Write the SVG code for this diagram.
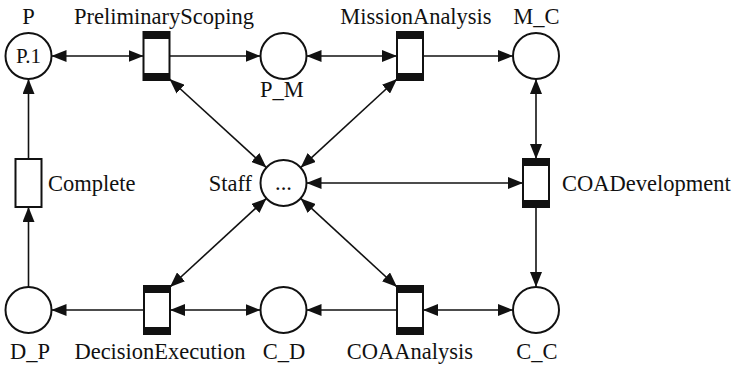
<svg xmlns="http://www.w3.org/2000/svg" width="734" height="367" viewBox="0 0 734 367">
  <style>
    .place { fill: #fff; stroke: #111; stroke-width: 2; }
    .trans { fill: #fff; stroke: #111; stroke-width: 2; }
    .bar { fill: #111; }
    .arc { stroke: #111; stroke-width: 1.6; fill: none; }
    .lbl { font-family: 'Liberation Serif', 'DejaVu Serif', serif; font-size: 22.5px; fill: #111; }
    .mid { text-anchor: middle; }
    .end { text-anchor: end; }
  </style>
  <defs>
    <marker id="head" viewBox="0 0 15 12" refX="15" refY="6" markerWidth="15" markerHeight="12" markerUnits="userSpaceOnUse" orient="auto-start-reverse">
      <path d="M0,0 L15,6 L0,12 z" fill="#111"/>
    </marker>
  </defs>

  <rect width="734" height="367" fill="#fff"/>

  <!-- arcs -->
  <g id="connectors">
    <!-- top row -->
    <line class="arc" x1="51.5" y1="56" x2="143.5" y2="56" marker-start="url(#head)" marker-end="url(#head)"/>
    <line class="arc" x1="169.5" y1="56" x2="260.5" y2="56" marker-end="url(#head)"/>
    <line class="arc" x1="306.5" y1="56" x2="397" y2="56" marker-start="url(#head)" marker-end="url(#head)"/>
    <line class="arc" x1="423" y1="56" x2="513" y2="56" marker-end="url(#head)"/>
    <!-- right column -->
    <line class="arc" x1="536" y1="79" x2="536" y2="159" marker-start="url(#head)" marker-end="url(#head)"/>
    <line class="arc" x1="536" y1="207" x2="536" y2="287" marker-end="url(#head)"/>
    <!-- bottom row -->
    <line class="arc" x1="513" y1="310" x2="423" y2="310" marker-start="url(#head)" marker-end="url(#head)"/>
    <line class="arc" x1="397" y1="310" x2="306.5" y2="310" marker-end="url(#head)"/>
    <line class="arc" x1="260.5" y1="310" x2="170" y2="310" marker-start="url(#head)" marker-end="url(#head)"/>
    <line class="arc" x1="144" y1="310" x2="51.5" y2="310" marker-end="url(#head)"/>
    <!-- left column -->
    <line class="arc" x1="28.5" y1="287" x2="28.5" y2="207" marker-end="url(#head)"/>
    <line class="arc" x1="28.5" y1="159" x2="28.5" y2="79" marker-end="url(#head)"/>
    <!-- Staff resource arcs -->
    <line class="arc" x1="266.4" y1="167.6" x2="169.5" y2="79" marker-start="url(#head)" marker-end="url(#head)"/>
    <line class="arc" x1="300.7" y1="167.6" x2="397" y2="79" marker-start="url(#head)" marker-end="url(#head)"/>
    <line class="arc" x1="306.5" y1="183" x2="523" y2="183" marker-start="url(#head)" marker-end="url(#head)"/>
    <line class="arc" x1="266.4" y1="198.4" x2="170" y2="287" marker-start="url(#head)" marker-end="url(#head)"/>
    <line class="arc" x1="300.7" y1="198.4" x2="397" y2="287" marker-start="url(#head)" marker-end="url(#head)"/>
  </g>

  <!-- places -->
  <g id="P">
    <circle class="place" cx="28.5" cy="56" r="23"/>
    <text class="lbl mid" x="28.5" y="24" font-family="Liberation Serif, serif">P</text>
    <text class="lbl mid" x="28.5" y="63" font-family="Liberation Serif, serif" style="font-size:21px">P.1</text>
  </g>
  <g id="P_M">
    <circle class="place" cx="283.5" cy="56" r="23"/>
    <text class="lbl mid" x="282" y="97" font-family="Liberation Serif, serif">P_M</text>
  </g>
  <g id="M_C">
    <circle class="place" cx="536" cy="56" r="23"/>
    <text class="lbl mid" x="536.5" y="24" font-family="Liberation Serif, serif">M_C</text>
  </g>
  <g id="Staff">
    <circle class="place" cx="283.5" cy="183" r="23"/>
    <text class="lbl end" x="252" y="191" font-family="Liberation Serif, serif">Staff</text>
    <text class="lbl mid" x="283.5" y="190" font-family="Liberation Serif, serif">...</text>
  </g>
  <g id="D_P">
    <circle class="place" cx="28.5" cy="310" r="23"/>
    <text class="lbl mid" x="30" y="359" font-family="Liberation Serif, serif">D_P</text>
  </g>
  <g id="C_D">
    <circle class="place" cx="283.5" cy="310" r="23"/>
    <text class="lbl mid" x="284" y="359" font-family="Liberation Serif, serif">C_D</text>
  </g>
  <g id="C_C">
    <circle class="place" cx="536" cy="310" r="23"/>
    <text class="lbl mid" x="537" y="359" font-family="Liberation Serif, serif">C_C</text>
  </g>

  <!-- transitions -->
  <g id="PreliminaryScoping">
    <rect class="trans" x="143.5" y="32" width="26" height="48"/>
    <rect class="bar" x="143.5" y="32" width="26" height="7"/>
    <rect class="bar" x="143.5" y="73" width="26" height="7"/>
    <text class="lbl mid" x="164" y="24" font-family="Liberation Serif, serif">PreliminaryScoping</text>
  </g>
  <g id="MissionAnalysis">
    <rect class="trans" x="397" y="32" width="26" height="48"/>
    <rect class="bar" x="397" y="32" width="26" height="7"/>
    <rect class="bar" x="397" y="73" width="26" height="7"/>
    <text class="lbl mid" x="416" y="24" font-family="Liberation Serif, serif">MissionAnalysis</text>
  </g>
  <g id="Complete">
    <rect class="trans" x="15.5" y="159" width="26" height="48"/>
    <text class="lbl" x="48" y="191" font-family="Liberation Serif, serif">Complete</text>
  </g>
  <g id="COADevelopment">
    <rect class="trans" x="523" y="159" width="26" height="48"/>
    <rect class="bar" x="523" y="159" width="26" height="7"/>
    <rect class="bar" x="523" y="200" width="26" height="7"/>
    <text class="lbl" x="562" y="191" font-family="Liberation Serif, serif">COADevelopment</text>
  </g>
  <g id="DecisionExecution">
    <rect class="trans" x="144" y="286" width="26" height="48"/>
    <rect class="bar" x="144" y="286" width="26" height="7"/>
    <rect class="bar" x="144" y="327" width="26" height="7"/>
    <text class="lbl mid" x="160" y="359" font-family="Liberation Serif, serif">DecisionExecution</text>
  </g>
  <g id="COAAnalysis">
    <rect class="trans" x="397" y="286" width="26" height="48"/>
    <rect class="bar" x="397" y="286" width="26" height="7"/>
    <rect class="bar" x="397" y="327" width="26" height="7"/>
    <text class="lbl mid" x="410" y="359" font-family="Liberation Serif, serif">COAAnalysis</text>
  </g>
</svg>
